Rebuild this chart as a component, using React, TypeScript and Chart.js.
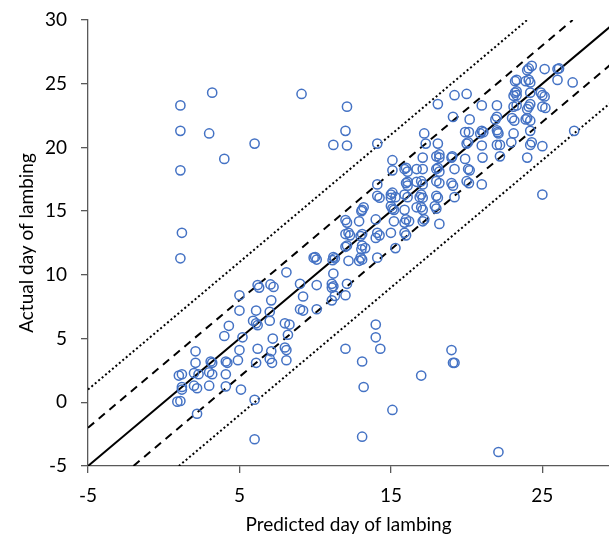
import React, { useEffect, useRef } from "react";
import { Chart, registerables } from "chart.js";

Chart.register(...registerables);

// Predicted day of lambing (x) for each ewe
const predictedDay = [
  1.1, 1.1, 1.1, 1.2, 1.1, 1.0, 1.2, 0.9, 1.1, 1.2, 1.2,
  2.0, 2.2, 2.0, 2.3, 2.1, 2.1, 2.2,
  3.2, 3.0, 3.0, 3.2, 3.0, 3.1, 3.2,
  4.0, 4.1, 4.2, 4.1, 4.1, 4.3, 4.0,
  4.9, 5.0, 5.2, 5.0, 5.0, 5.1,
  6.0, 6.0, 6.0, 6.1, 6.2, 5.9, 6.1, 6.2, 6.1, 6.2, 6.3,
  7.0, 7.15, 7.1, 7.2, 7.0, 7.0, 7.1, 7.05, 7.25,
  8.1, 8.0, 8.1, 8.2, 8.0, 8.3, 8.1,
  9.1, 9.0, 9.2, 9.0, 9.2,
  10.1, 10.1, 9.9, 10.1, 10.0,
  11.2, 11.1, 11.2, 11.1, 11.1, 11.3, 11.2, 11.2, 11.3, 11.15,
  12.1, 12.0, 12.1, 12.0, 12.1, 12.0, 12.2, 12.0, 12.1, 12.2, 12.0, 12.3, 12.0, 12.1,
  13.1, 13.2, 13.1, 13.1, 13.2, 13.05, 12.9, 13.1, 13.0, 13.1, 13.3, 13.05, 13.0, 13.1, 12.9,
  14.1, 14.0, 14.0, 14.3, 14.1, 14.1, 14.25, 14.0, 14.1, 14.25, 14.0, 14.1,
  15.1, 15.1, 15.1, 15.0, 15.1, 15.3, 15.0, 15.1, 15.2, 15.0, 15.2, 15.0, 15.3,
  15.9, 16.1, 16.0, 16.0, 16.1, 16.1, 15.9, 16.1, 15.9, 16.0, 16.2, 15.9, 16.0, 15.9,
  16.7, 16.7, 16.7, 17.0, 17.2, 17.3, 17.1, 17.1, 17.0, 17.1, 17.0, 17.1, 16.9, 17.0, 17.1, 17.1, 17.2,
  18.1, 18.1, 18.0, 18.2, 18.2, 18.0, 18.1, 18.2, 18.0, 18.2, 18.0, 18.1, 17.9, 18.0, 18.2,
  19.0, 19.1, 19.2, 19.1, 19.2, 19.0, 19.05, 19.2, 19.0, 19.1, 19.2,
  20.0, 20.2, 19.9, 20.15, 20.0, 20.1, 19.9, 20.1, 20.2, 20.0, 20.15,
  21.0, 21.0, 21.1, 20.9, 21.0, 21.05, 21.0,
  22.1, 22.0, 22.0, 21.9, 22.0, 22.1, 22.05, 22.0, 22.2, 22.2,
  23.0, 23.15, 23.1, 22.95, 23.2, 23.3, 23.2, 23.3, 23.1, 23.3, 23.1, 23.3,
  24.1, 24.3, 24.0, 23.9, 24.1, 24.2, 24.2, 24.1, 24.2, 24.0, 23.9, 24.2, 24.0, 24.2, 24.2, 24.3, 24.0,
  25.15, 24.9, 25.0, 25.15, 25.0, 25.2, 25.0, 25.0,
  26.0, 26.1, 26.0, 27.0, 27.1,
];

// Actual day of lambing (y) for each ewe
const actualDay = [
  23.3, 21.3, 18.2, 13.3, 11.3, 2.1, 2.2, 0.05, 0.1, 1.2, 1.0,
  1.3, 1.1, 2.3, 2.2, 3.1, 4.0, -0.9,
  24.3, 21.1, 2.35, 2.2, 1.3, 3.2, 3.1,
  19.1, 3.2, 3.1, 2.2, 1.25, 6.0, 5.2,
  3.3, 4.1, 5.1, 7.2, 8.4, 1.0,
  20.3, 0.2, -2.9, 3.1, 4.2, 6.4, 6.2, 6.05, 7.2, 9.2, 9.0,
  3.4, 3.1, 4.0, 5.0, 6.4, 7.1, 8.0, 9.25, 9.05,
  3.3, 4.3, 4.1, 5.3, 6.2, 6.1, 10.2,
  24.2, 9.3, 8.3, 7.3, 7.2,
  9.2, 7.3, 11.35, 11.2, 11.4,
  20.2, 9.3, 9.1, 9.0, 8.0, 8.35, 10.1, 11.4, 11.3, 11.15,
  23.2, 21.3, 20.15, 4.2, 9.3, 8.4, 11.1, 14.3, 14.1, 13.3, 13.2, 13.1, 12.2, 12.3,
  3.2, 1.2, -2.7, 15.1, 15.3, 15.0, 14.2, 13.2, 13.05, 12.3, 12.1, 12.0, 11.35, 11.2, 11.1,
  20.3, 6.1, 5.1, 4.2, 17.1, 16.2, 16.05, 14.35, 13.3, 13.1, 12.9, 11.35,
  -0.6, 19.0, 18.2, 16.3, 16.45, 16.1, 16.05, 15.2, 15.1, 15.4, 14.2, 13.3, 12.1,
  18.3, 18.1, 18.4, 17.2, 17.3, 17.0, 16.3, 16.1, 15.1, 14.35, 14.2, 14.1, 13.1, 13.3,
  18.3, 17.3, 15.3, 2.1, 21.1, 20.3, 19.2, 18.3, 17.35, 17.1, 16.3, 16.05, 16.1, 15.3, 15.1, 14.2, 14.35,
  23.4, 20.3, 19.3, 19.2, 19.45, 18.3, 18.4, 18.1, 17.35, 17.2, 16.2, 16.05, 15.4, 15.2, 14.0,
  4.1, 3.1, 3.1, 22.4, 24.1, 19.2, 19.3, 18.3, 17.2, 17.0, 16.1,
  24.2, 22.2, 21.2, 21.2, 20.3, 20.4, 19.1, 18.3, 18.2, 17.35, 17.2,
  23.3, 21.3, 21.2, 21.1, 20.15, 19.2, 17.1,
  -3.9, 23.3, 22.4, 22.2, 21.35, 21.1, 21.2, 20.2, 20.2, 19.3,
  22.3, 22.1, 21.1, 20.4, 25.2, 25.3, 24.3, 24.1, 24.05, 24.4, 23.2, 23.3,
  26.2, 26.4, 26.05, 25.2, 25.3, 25.1, 24.3, 23.2, 23.4, 23.0, 22.2, 22.1, 22.3, 21.3, 20.2, 20.4, 19.2,
  26.15, 24.3, 24.1, 24.0, 23.2, 23.1, 20.1, 16.3,
  26.15, 26.2, 25.3, 25.1, 21.3,
];

// Reference lines: y = x, y = x ± 3 (dashed), y = x ± 6 (dotted)
const solidLineX = [-5, 30];
const solidLineY = [-5, 30];
const dashUpperX = [-5, 27];
const dashUpperY = [-2, 30];
const dashLowerX = [-2, 33];
const dashLowerY = [-5, 30];
const dotUpperX = [-5, 24];
const dotUpperY = [1, 30];
const dotLowerX = [1, 36];
const dotLowerY = [-5, 30];

const xTickValues = [-5, 5, 15, 25];
const yTickValues = [-5, 0, 5, 10, 15, 20, 25, 30];
const xMin = -5;
const xMax = 29.4;
const yMin = -5;
const yMax = 30;

const xTitle = "Predicted day of lambing";
const yTitle = "Actual day of lambing";

const FONT = "Lato, 'Open Sans', sans-serif";

function pairs(xs: number[], ys: number[]) {
  return xs.map((x, i) => ({ x, y: ys[i] }));
}

export default function App() {
  const ref = useRef<HTMLCanvasElement | null>(null);

  useEffect(() => {
    if (!ref.current) return;
    const lineDs = (xs: number[], ys: number[], dash: number[], width: number) => ({
      type: "line" as const,
      data: pairs(xs, ys),
      showLine: true,
      borderColor: "#000000",
      borderWidth: width,
      borderDash: dash,
      pointRadius: 0,
      fill: false,
      tension: 0,
      borderCapStyle: "butt" as const,
    });

    const chart = new Chart(ref.current, {
      type: "scatter",
      data: {
        datasets: [
          {
            data: pairs(predictedDay, actualDay),
            pointStyle: "circle",
            pointRadius: 4.6,
            pointBorderWidth: 1.5,
            borderColor: "#4472C4",
            pointBorderColor: "#4472C4",
            backgroundColor: "rgba(0,0,0,0)",
            pointBackgroundColor: "rgba(0,0,0,0)",
          } as any,
          lineDs(solidLineX, solidLineY, [], 2),
          lineDs(dashUpperX, dashUpperY, [8, 6], 2),
          lineDs(dashLowerX, dashLowerY, [8, 6], 2),
          lineDs(dotUpperX, dotUpperY, [2, 2.5], 2),
          lineDs(dotLowerX, dotLowerY, [2, 2.5], 2),
        ] as any,
      },
      options: {
        animation: false,
        responsive: false,
        devicePixelRatio: 1,
        layout: { autoPadding: false, padding: { top: 20, right: 0, left: 0, bottom: 0 } },
        plugins: {
          legend: { display: false },
          tooltip: { enabled: false },
        },
        scales: {
          x: {
            type: "linear",
            min: xMin,
            max: xMax,
            afterBuildTicks: (scale: any) => {
              scale.ticks = xTickValues.map((v) => ({ value: v }));
            },
            afterFit: (scale: any) => {
              scale.height = 76;
              scale.paddingLeft = 0;
              scale.paddingRight = 0;
            },
            grid: {
              display: true,
              drawOnChartArea: false,
              drawTicks: true,
              tickLength: 7,
              color: "#595959",
              lineWidth: 1.3,
            },
            border: { display: true, color: "#595959", width: 1.3 },
            ticks: {
              color: "#000000",
              font: { family: FONT, size: 19 },
              padding: 11,
              maxRotation: 0,
            },
            title: {
              display: true,
              text: xTitle,
              color: "#000000",
              font: { family: FONT, size: 19 },
              padding: { top: 0, bottom: 6 },
            },
          },
          y: {
            type: "linear",
            min: yMin,
            max: yMax,
            afterBuildTicks: (scale: any) => {
              scale.ticks = yTickValues.map((v) => ({ value: v }));
            },
            afterFit: (scale: any) => {
              scale.width = 88;
              scale.paddingTop = 0;
              scale.paddingBottom = 0;
            },
            grid: {
              display: true,
              drawOnChartArea: false,
              drawTicks: true,
              tickLength: 7,
              color: "#595959",
              lineWidth: 1.3,
            },
            border: { display: true, color: "#595959", width: 1.3 },
            ticks: {
              color: "#000000",
              font: { family: FONT, size: 19 },
              padding: 14,
            },
            title: {
              display: true,
              text: yTitle,
              color: "#000000",
              font: { family: FONT, size: 19 },
              padding: { top: 15, bottom: 0 },
            },
          },
        },
      } as any,
    });
    return () => chart.destroy();
  }, []);

  return (
    <div style={{ position: "absolute", left: 0, top: 0, width: 609, height: 542, background: "#ffffff" }}>
      <canvas ref={ref} width={609} height={542} style={{ display: "block" }} />
    </div>
  );
}
